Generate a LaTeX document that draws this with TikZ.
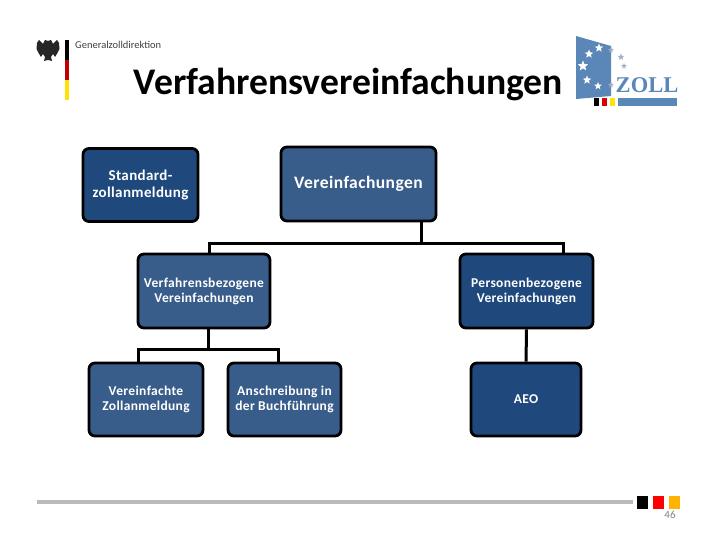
\documentclass[tikz,border=0pt]{standalone}
\usepackage{fontspec}
\setmainfont{Carlito}
\newfontfamily\logofont{Liberation Serif}
\usetikzlibrary{shapes.geometric}
\definecolor{boxblue}{HTML}{385D8A}
\definecolor{darkblue}{HTML}{1F497D}
\definecolor{logoblue}{HTML}{5A86B8}
\definecolor{paleblue}{HTML}{A3AFC6}
\tikzset{
    orgbox/.style={draw=black,line width=2.8pt,rounded corners=6pt,fill=boxblue,text=white,align=center,inner sep=0pt,font=\bfseries\fontsize{13.5}{15}\selectfont\addfontfeatures{LetterSpace=2.5}},
    darkbox/.style={orgbox,fill=darkblue},
    orgline/.style={draw=black,line width=3pt},
    whitestar/.style={star,star points=5,star point ratio=2.3,fill=white,inner sep=0pt,minimum size=#1},
    palestar/.style={star,star points=5,star point ratio=2.3,fill=paleblue,inner sep=0pt,minimum size=#1},
    footsquare/.style={minimum width=11pt,minimum height=13pt,inner sep=0pt}
}
\begin{document}
\begin{tikzpicture}[x=1pt,y=-1pt]
    \useasboundingbox (0,0) rectangle (720,540);
    % head
    \node[font=\bfseries\fontsize{37.6}{44}\selectfont,text=black,inner sep=0pt] (title) at (348.5,84) {Verfahrensvereinfachungen};
    \node[anchor=west,inner sep=0pt,font=\fontsize{10.5}{12}\selectfont,text=black!75] (gzd) at (75,45) {Generalzolldirektion};
    % federal eagle
    \foreach \side in {1,-1} {
        \fill[black!85,xscale=\side,shift={(48*\side,0)}] (0,41) -- (3,40) -- (5,44) -- (9,40) -- (11,43) -- (11.5,49) -- (9.5,53) -- (7,57) -- (5,54) -- (3,57) -- (4,61) -- (0,60) -- cycle;
    }
    % flag bar
    \fill[black] (65,40) rectangle (69,60);
    \fill[red!75!black] (65,60) rectangle (69,80);
    \fill[yellow!85!orange] (65,80) rectangle (69,100);
    % zoll logo
    \fill[logoblue] (576,36) -- (611,46) -- (611,96) -- (576,99) -- cycle;
    \node[whitestar=9pt] (s1) at (599,48) {};
    \node[whitestar=9pt] (s2) at (589,54) {};
    \node[whitestar=11pt] (s3) at (583,66) {};
    \node[whitestar=9pt] (s4) at (587,80) {};
    \node[whitestar=8pt] (s5) at (598,86) {};
    \node[palestar=6pt] (s6) at (611,50) {};
    \node[palestar=7pt] (s7) at (621,57) {};
    \node[palestar=6pt] (s8) at (624,66) {};
    \node[palestar=6pt] (s9) at (611,85) {};
    \node[font=\logofont\bfseries\fontsize{22.5}{24}\selectfont,text=logoblue,inner sep=0pt] (zoll) at (647,85) {ZOLL};
    \fill[black] (594,98) rectangle (599,106);
    \fill[red!85!black] (602,98) rectangle (607,106);
    \fill[yellow!85!orange] (610,98) rectangle (615,106);
    \fill[logoblue] (618,98) rectangle (677,106);
    % boxes
    \node[darkbox,minimum width=115pt,minimum height=73pt,font=\bfseries\fontsize{15}{17.5}\selectfont\addfontfeatures{LetterSpace=2.5}] (standard) at (140.5,185) {Standard-\\zollanmeldung};
    \node[orgbox,minimum width=155pt,minimum height=74pt,font=\bfseries\fontsize{17.5}{19}\selectfont\addfontfeatures{LetterSpace=2.5}] (verein) at (358.5,184) {Vereinfachungen};
    \node[orgbox,minimum width=132pt,minimum height=74pt] (verfahren) at (204,291) {Verfahrensbezogene\\Vereinfachungen};
    \node[darkbox,minimum width=133pt,minimum height=74pt] (personen) at (526.5,291) {Personenbezogene\\Vereinfachungen};
    \node[orgbox,minimum width=114pt,minimum height=73pt] (zollanm) at (146,399.5) {Vereinfachte\\Zollanmeldung};
    \node[orgbox,minimum width=113pt,minimum height=73pt] (buchf) at (284.5,399.5) {Anschreibung in\\der Buchführung};
    \node[darkbox,minimum width=110pt,minimum height=73pt] (aeo) at (526,399.5) {AEO};
    % connectors
    \coordinate (top) at (421,243);
    \coordinate (lower) at (208,349);
    \draw[orgline] (top) -- (top |- verein.south);
    \draw[orgline] (verfahren.north -| 209,0) |- (top) -| (personen.north -| 563,0);
    \draw[orgline] (lower) -- (lower |- verfahren.south);
    \draw[orgline] (zollanm.north -| 138,0) |- (lower) -| (buchf.north -| 278,0);
    \draw[orgline] (personen) -- (aeo);
    % foot
    \node[footsquare,fill=black] (sqa) at (642.5,502.5) {};
    \node[footsquare,fill=red] (sqb) at (658.5,502.5) {};
    \node[footsquare,fill=orange!60!yellow] (sqc) at (674.5,502.5) {};
    \coordinate (footstart) at (37,502);
    \draw[line width=3.4pt,draw=black!27] (footstart) -- (633,502);
    \node[font=\fontsize{11}{12}\selectfont,text=black!50] (page) at (670,515) {46};
\end{tikzpicture}
\end{document}
